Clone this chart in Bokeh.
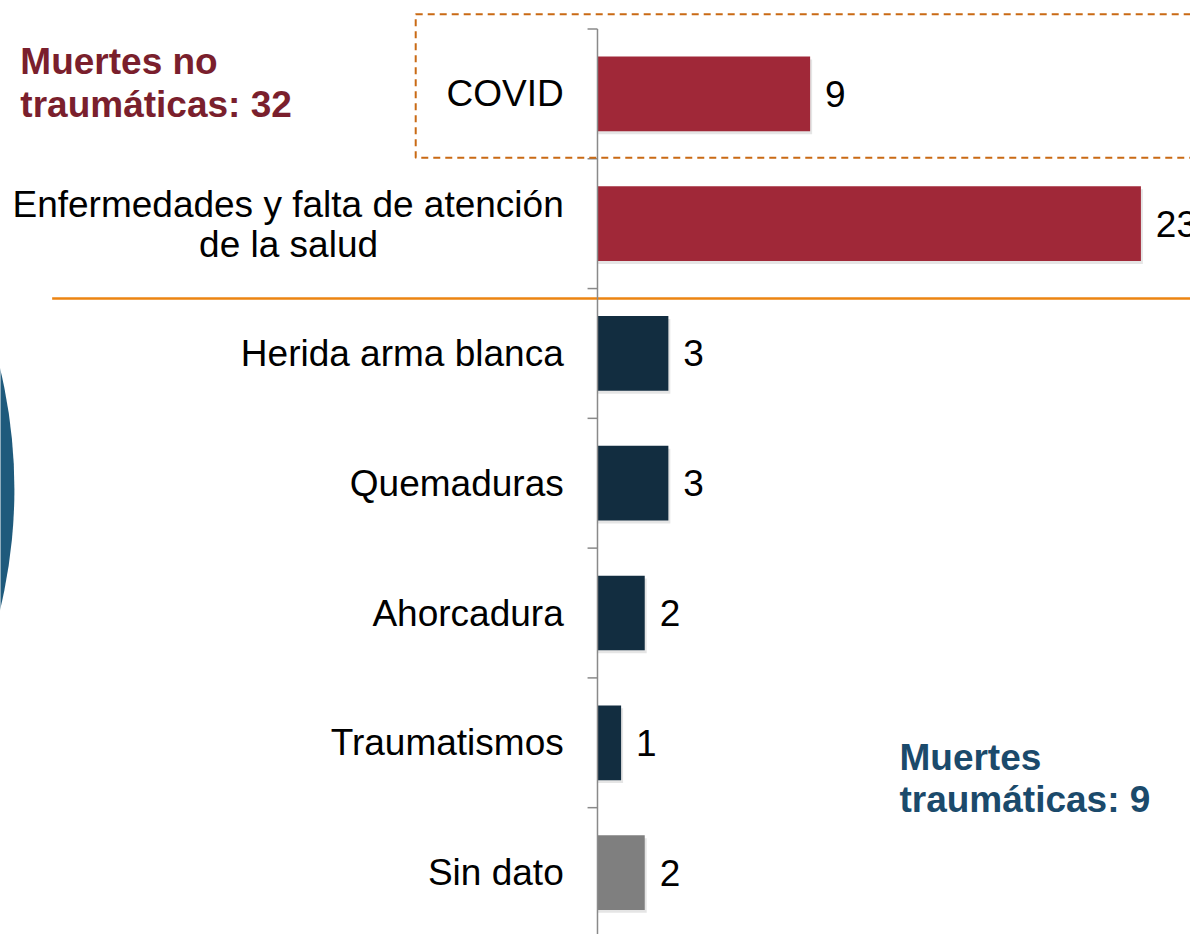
from bokeh.plotting import figure
from bokeh.models import Range1d, Label, BoxAnnotation
from bokeh.embed import file_html
from bokeh.resources import INLINE
from bokeh.core.properties import value

# ---------------- data ----------------
categories = ["COVID",
              "Enfermedades y falta de atención de la salud",
              "Herida arma blanca",
              "Quemaduras",
              "Ahorcadura",
              "Traumatismos",
              "Sin dato"]
values = [9, 23, 3, 3, 2, 1, 2]
groups = ["no_traumatica", "no_traumatica", "traumatica", "traumatica",
          "traumatica", "traumatica", "sin_dato"]
label_lines = [["COVID"],
               ["Enfermedades y falta de atención", "de la salud"],
               ["Herida arma blanca"],
               ["Quemaduras"],
               ["Ahorcadura"],
               ["Traumatismos"],
               ["Sin dato"]]
title_no_traum = ["Muertes no", "traumáticas: 32"]
title_traum = ["Muertes", "traumáticas: 9"]

# ---------------- styles / layout ----------------
group_colors = {"no_traumatica": "#A02838", "traumatica": "#122D40", "sin_dato": "#7F7F7F"}
FONT = value("Liberation Sans")
FS = "37px"

W, H = 1190, 934                 # figure size
REF_W, REF_H = 1198, 950         # layout reference frame
SX, SY = W / REF_W, H / REF_H
PX_PER_UNIT = 23.786             # reference pixels per count
X0 = 601                         # reference px of value 0
ROW = 132                        # reference pixels per row
Y0 = 95                          # reference px of first row centre


def rx(px):
    return (px - X0) / PX_PER_UNIT


def ry(py):
    return (py - Y0) / ROW


p = figure(width=W, height=H,
           x_range=Range1d(rx(0), rx(REF_W)),
           y_range=Range1d(ry(REF_H), ry(0)),
           x_axis_type=None, y_axis_type=None,
           output_backend="svg", toolbar_location=None,
           min_border=0, outline_line_color=None)
p.grid.visible = False
p.background_fill_color = "white"
p.border_fill_color = "white"

n = len(categories)
idx = list(range(n))
colors = [group_colors[g] for g in groups]

# decorative circle on the left
p.circle(x=[rx(-507)], y=[ry(497)], radius=521 / PX_PER_UNIT,
         fill_color="#1E5A7C", line_color=None)

# dashed box around COVID
p.add_layout(BoxAnnotation(left=rx(418), right=rx(1240), top=ry(14), bottom=ry(160),
                           fill_alpha=0, fill_color=None, line_color="#C96A14",
                           line_alpha=1.0, line_dash="7 5", line_width=2))

# orange separator
p.segment(x0=[rx(52)], x1=[rx(1240)], y0=[ry(303)], y1=[ry(303)],
          line_color="#EC8412", line_width=2.5)

# bar shadows and bars
bh = 76 / ROW
p.hbar(y=[i + 3 / ROW for i in idx], left=0,
       right=[v + 2 / PX_PER_UNIT for v in values], height=bh,
       fill_color="#000000", fill_alpha=0.10, line_color=None)
p.hbar(y=idx, left=0, right=values, height=bh, fill_color=colors, line_color=None)

# axis line and ticks
p.segment(x0=[0], x1=[0], y0=[-0.5], y1=[n - 0.5], line_color="#8A8A8A", line_width=1.5)
bounds = [i - 0.5 for i in range(n + 1)]
p.segment(x0=[-10 / PX_PER_UNIT] * len(bounds), x1=[0] * len(bounds),
          y0=bounds, y1=bounds, line_color="#8A8A8A", line_width=1.5)

# value labels
p.text(x=values, y=idx, text=[str(v) for v in values], x_offset=15 * SX,
       text_align="left", text_baseline="middle", text_font=FONT,
       text_font_size=FS, text_color="#000000")

# category labels
single_y, single_t = [], []
first_y, first_t, second_y, second_t = [], [], [], []
for i, lines in enumerate(label_lines):
    if len(lines) == 1:
        single_y.append(i)
        single_t.append(lines[0])
    else:
        first_y.append(i)
        first_t.append(lines[0])
        second_y.append(i)
        second_t.append(lines[1])

p.text(x=[0] * len(single_y), y=single_y, text=single_t, x_offset=-34 * SX,
       text_align="right", text_baseline="middle", text_font=FONT,
       text_font_size=FS, text_color="#000000")
p.text(x=[0] * len(first_y), y=first_y, text=first_t, x_offset=-34 * SX, y_offset=-20 * SY,
       text_align="right", text_baseline="middle", text_font=FONT,
       text_font_size=FS, text_color="#000000")
p.text(x=[0] * len(second_y), y=second_y, text=second_t, x_offset=-311 * SX, y_offset=21 * SY,
       text_align="center", text_baseline="middle", text_font=FONT,
       text_font_size=FS, text_color="#000000")

# group titles
for k, t in enumerate(title_no_traum):
    p.add_layout(Label(x=rx(20), y=ry(62 + 44 * k), text=t, text_align="left",
                       text_baseline="alphabetic", text_font="Liberation Sans",
                       text_font_style="bold", text_font_size=FS, text_color="#7A1F2D"))
for k, t in enumerate(title_traum):
    p.add_layout(Label(x=rx(905), y=ry(770 + 43 * k), text=t, text_align="left",
                       text_baseline="alphabetic", text_font="Liberation Sans",
                       text_font_style="bold", text_font_size=FS, text_color="#1B4A6B"))

open("out.html", "w").write(file_html(p, INLINE))
